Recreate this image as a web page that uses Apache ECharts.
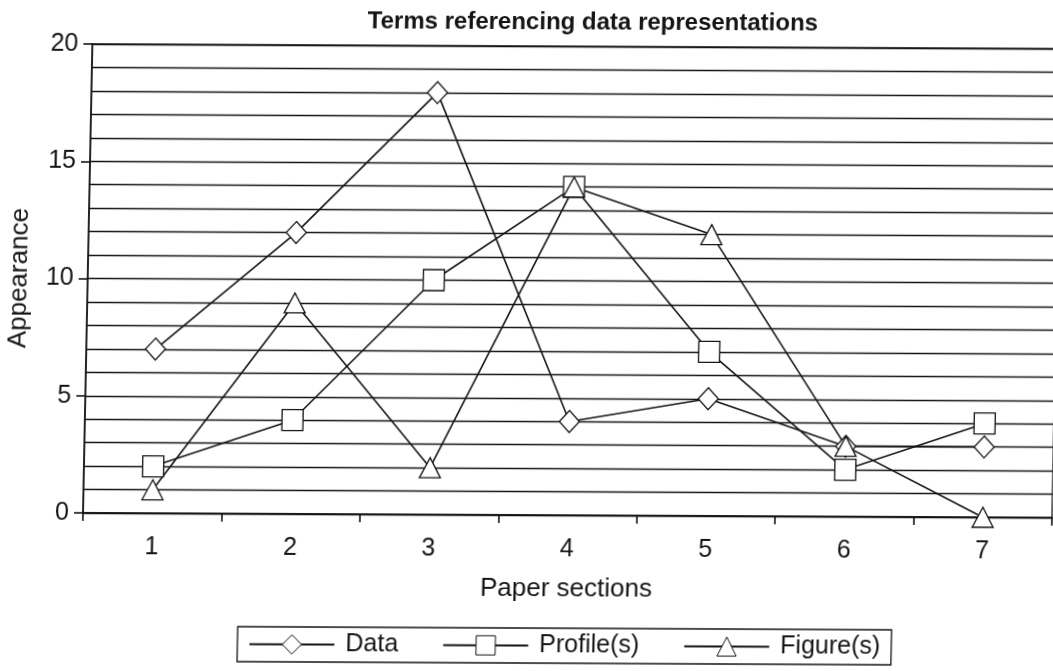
<!DOCTYPE html>
<html><head><meta charset="utf-8">
<script src="https://cdn.jsdelivr.net/npm/echarts@6/dist/echarts.min.js"></script>
<style>
html,body{margin:0;padding:0;background:#fff;overflow:hidden}
#c{width:1053px;height:671px;transform-origin:83px 513px;transform:matrix(1,0.0049,-0.0200,1,0,0)}
</style>
</head><body><div id="c"></div>
<script>
const categories = ['1','2','3','4','5','6','7'];
const dataValues = [7, 12, 18, 4, 5, 3, 3];
const profileValues = [2, 4, 10, 14, 7, 2, 4];
const figureValues = [1, 9, 2, 14, 12, 3, 0];
const yTicks = [0, 5, 10, 15, 20];

const ink = '#151515';
const font = 'Liberation Sans, Arial, sans-serif';
const chart = echarts.init(document.getElementById('c'), null, {renderer: 'canvas'});
function ser(name, values, symbol, size) {
  return {
    name, type: 'line', data: values, symbol, symbolSize: size,
    showAllSymbol: true,
    lineStyle: {color: ink, width: 1.6},
    itemStyle: {color: '#fff', borderColor: ink, borderWidth: 1.3},
    emphasis: {disabled: true},
    animation: false
  };
}
chart.setOption({
  backgroundColor: '#fff',
  animation: false,
  title: {
    text: 'Terms referencing data representations',
    left: 578, top: 3, textAlign: 'center',
    textStyle: {fontFamily: font, fontWeight: 'bold', fontSize: 24, color: ink}
  },
  grid: {left: 83, right: 1, top: 44, bottom: 158, show: true, borderColor: ink, borderWidth: 1.3,
    containLabel: false, outerBoundsMode: 'none'},
  legend: {
    bottom: 10, left: 240,
    data: ['Data', 'Profile(s)', 'Figure(s)'],
    itemWidth: 85, itemHeight: 24, itemGap: 44,
    padding: [5, 11, 5, 11],
    borderColor: ink, borderWidth: 1.3,
    itemStyle: {borderWidth: 1},
    textStyle: {fontFamily: font, fontSize: 25, color: ink, padding: [0, 0, 0, 6]},
    selectedMode: false
  },
  xAxis: {
    type: 'category', data: categories, boundaryGap: true,
    name: 'Paper sections', nameLocation: 'middle', nameGap: 61,
    nameTextStyle: {fontFamily: font, fontSize: 26, color: ink},
    axisLine: {lineStyle: {color: ink, width: 1.6}},
    axisTick: {show: true, length: 8, lineStyle: {color: ink, width: 1.6}},
    axisLabel: {fontFamily: font, fontSize: 25, color: ink, margin: 22}
  },
  yAxis: {
    type: 'value', min: 0, max: 20, interval: 5,
    name: 'Appearance', nameLocation: 'middle', nameGap: 55,
    nameTextStyle: {fontFamily: font, fontSize: 26, color: ink},
    axisLine: {show: true, lineStyle: {color: ink, width: 1.6}},
    axisTick: {show: true, length: 9, lineStyle: {color: ink, width: 1.6}},
    axisLabel: {fontFamily: font, fontSize: 25, color: ink, margin: 14,
      formatter: v => (yTicks.includes(v) ? String(v) : '')},
    splitLine: {show: true, lineStyle: {color: ink, width: 1.3}},
    minorTick: {show: false, splitNumber: 5},
    minorSplitLine: {show: true, lineStyle: {color: ink, width: 1.3}}
  },
  series: [
    ser('Data', dataValues, 'diamond', [20, 22]),
    ser('Profile(s)', profileValues, 'rect', 21),
    ser('Figure(s)', figureValues, 'triangle', [21, 20])
  ]
});
</script></body></html>
